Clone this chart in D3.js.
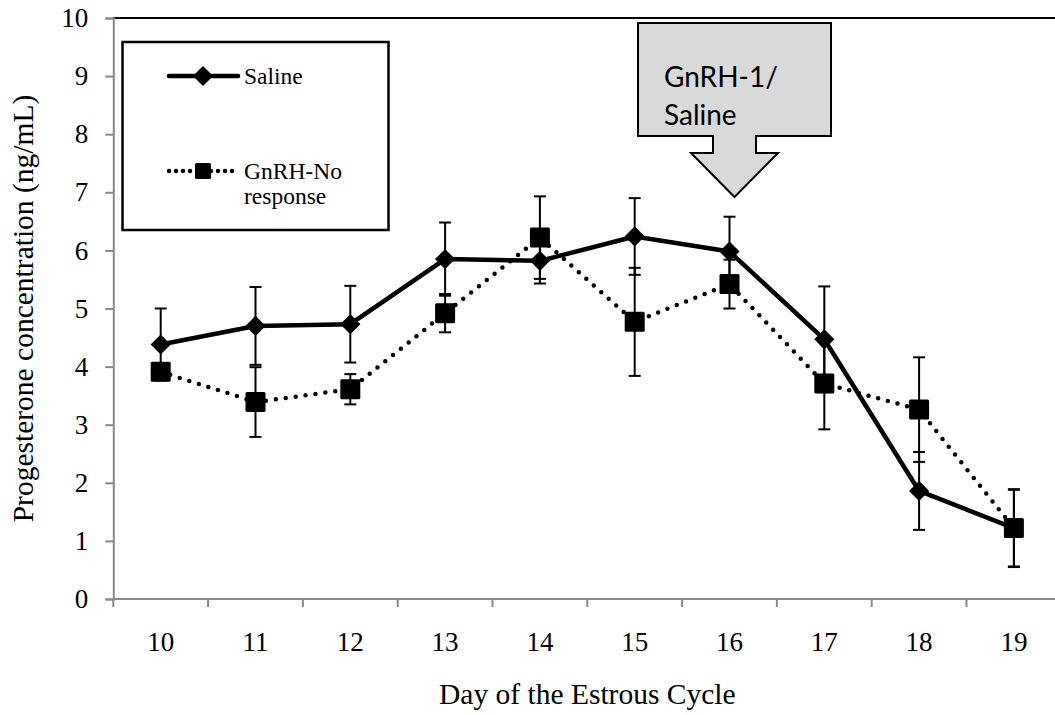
<!DOCTYPE html>
<html>
<head>
<meta charset="utf-8">
<script src="https://cdn.jsdelivr.net/npm/d3@7/dist/d3.min.js"></script>
<style>
  html, body { margin: 0; padding: 0; background: #fff; }
  svg { display: block; }
  .serif { font-family: "Liberation Serif", "Times New Roman", serif; fill: #000; }
</style>
</head>
<body>
<svg id="chart" width="1055" height="715"></svg>
<script>
// Day of the estrous cycle
const days = [10, 11, 12, 13, 14, 15, 16, 17, 18, 19];
// Progesterone (ng/mL), mean and error
const saline    = [4.38, 4.70, 4.73, 5.85, 5.82, 6.24, 5.98, 4.47, 1.86, 1.22];
const salineErr = [0.62, 0.67, 0.66, 0.63, 0.39, 0.66, 0.60, 0.91, 0.67, 0.66];
const gnrh      = [3.91, 3.39, 3.61, 4.92, 6.22, 4.77, 5.42, 3.71, 3.26, 1.22];
const gnrhErr   = [0.12, 0.60, 0.26, 0.33, 0.71, 0.93, 0.42, 0.79, 0.90, 0.67];
const yTicks = [0, 1, 2, 3, 4, 5, 6, 7, 8, 9, 10];
const seriesNames = ["Saline", "GnRH-No response"];
const arrowLines = ["GnRH-1/", "Saline"];

const svg = d3.select("#chart");
const plot = { left: 113.3, right: 1061.3, top: 18, bottom: 599 };

const x = d3.scaleBand().domain(days).range([plot.left, plot.right]);
const cx = d => x(d) + x.bandwidth() / 2;
const y = d3.scaleLinear().domain([0, 10]).range([plot.bottom, plot.top]);

// top border of the plot area
svg.append("line")
  .attr("x1", plot.left).attr("x2", 1055)
  .attr("y1", plot.top).attr("y2", plot.top)
  .attr("stroke", "#000").attr("stroke-width", 1.8);

// y axis
const yAxis = svg.append("g")
  .attr("transform", `translate(${plot.left},0)`)
  .call(d3.axisLeft(y).tickValues(yTicks).tickSize(8).tickPadding(17).tickFormat(d3.format("d")));
yAxis.select(".domain").attr("stroke", "#888").attr("stroke-width", 2);
yAxis.selectAll(".tick line").attr("stroke", "#888").attr("stroke-width", 2);
yAxis.selectAll(".tick text").attr("class", "serif").attr("font-size", 27).attr("fill", "#000");

// x axis: ticks between day categories
const xAxisG = svg.append("g").attr("transform", `translate(0,${plot.bottom})`);
xAxisG.append("line").attr("x1", plot.left).attr("x2", 1055)
  .attr("stroke", "#888").attr("stroke-width", 2);
xAxisG.selectAll("line.tk").data(days).join("line").attr("class", "tk")
  .attr("x1", d => x(d)).attr("x2", d => x(d)).attr("y1", 0).attr("y2", 8)
  .attr("stroke", "#888").attr("stroke-width", 2);
xAxisG.selectAll("text").data(days).join("text")
  .attr("class", "serif").attr("font-size", 27)
  .attr("x", d => cx(d)).attr("y", 52).attr("text-anchor", "middle")
  .text(d => d);

// axis titles
svg.append("text").attr("class", "serif").attr("font-size", 29.5)
  .attr("x", (plot.left + plot.right) / 2).attr("y", 704).attr("text-anchor", "middle")
  .text("Day of the Estrous Cycle");
svg.append("text").attr("class", "serif").attr("font-size", 29.5)
  .attr("transform", `translate(33,${(plot.top + plot.bottom) / 2}) rotate(-90)`)
  .attr("text-anchor", "middle")
  .text("Progesterone concentration (ng/mL)");

const diamond = d3.symbol().type(d3.symbolDiamond2).size(260);

function errorBars(vals, errs) {
  const g = svg.append("g").attr("stroke", "#000").attr("stroke-width", 2);
  vals.forEach((v, i) => {
    const xc = cx(days[i]);
    const hi = y(v + errs[i]), lo = y(v - errs[i]);
    g.append("line").attr("x1", xc).attr("x2", xc).attr("y1", hi).attr("y2", lo);
    g.append("line").attr("x1", xc - 6).attr("x2", xc + 6).attr("y1", hi).attr("y2", hi);
    g.append("line").attr("x1", xc - 6).attr("x2", xc + 6).attr("y1", lo).attr("y2", lo);
  });
}

const line = d3.line().x((d, i) => cx(days[i])).y(d => y(d));

// Saline series
errorBars(saline, salineErr);
svg.append("path").datum(saline).attr("d", line)
  .attr("fill", "none").attr("stroke", "#000").attr("stroke-width", 4.5)
  .attr("stroke-linejoin", "round");
svg.selectAll("path.dia").data(saline).join("path").attr("class", "dia")
  .attr("d", diamond)
  .attr("transform", (d, i) => `translate(${cx(days[i])},${y(d)})`)
  .attr("fill", "#000");

// GnRH-No response series
errorBars(gnrh, gnrhErr);
svg.append("path").datum(gnrh).attr("d", line)
  .attr("fill", "none").attr("stroke", "#000").attr("stroke-width", 4.5)
  .attr("stroke-linecap", "round").attr("stroke-dasharray", "0 10");
svg.selectAll("rect.sq").data(gnrh).join("rect").attr("class", "sq")
  .attr("x", (d, i) => cx(days[i]) - 10).attr("y", d => y(d) - 10)
  .attr("width", 20).attr("height", 20).attr("rx", 1.5)
  .attr("fill", "#000");

// legend
const lg = svg.append("g");
lg.append("rect").attr("x", 122.5).attr("y", 42).attr("width", 266).attr("height", 188)
  .attr("fill", "#fff").attr("stroke", "#000").attr("stroke-width", 2.5);
lg.append("line").attr("x1", 169).attr("x2", 238).attr("y1", 76).attr("y2", 76)
  .attr("stroke", "#000").attr("stroke-width", 4.5).attr("stroke-linecap", "round");
lg.append("path").attr("d", diamond).attr("transform", "translate(203,76)").attr("fill", "#000");
lg.append("text").attr("class", "serif").attr("font-size", 23.5)
  .attr("x", 244).attr("y", 84).text(seriesNames[0]);
lg.append("line").attr("x1", 169).attr("x2", 238).attr("y1", 171).attr("y2", 171)
  .attr("stroke", "#000").attr("stroke-width", 4.5).attr("stroke-linecap", "round")
  .attr("stroke-dasharray", "0 7");
lg.append("rect").attr("x", 195).attr("y", 163).attr("width", 16).attr("height", 16)
  .attr("rx", 1.5).attr("fill", "#000");
const lt = lg.append("text").attr("class", "serif").attr("font-size", 23.5).attr("x", 244).attr("y", 179);
lt.append("tspan").attr("x", 244).text("GnRH-No");
lt.append("tspan").attr("x", 244).attr("dy", 25).text("response");

// treatment arrow callout
const ax = 734.5;
const arrowPts = [
  [638, 23], [831, 23], [831, 136], [756, 136], [756, 153], [778, 153],
  [ax, 197], [691, 153], [713, 153], [713, 136], [638, 136]
];
svg.append("path").attr("d", d3.line()(arrowPts) + "Z")
  .attr("fill", "#d9d9d9").attr("stroke", "#000").attr("stroke-width", 2);
const at = svg.append("text").attr("font-family", "Lato, 'Open Sans', sans-serif")
  .attr("font-size", 28).attr("fill", "#000");
arrowLines.forEach((t, i) => {
  at.append("tspan").attr("x", 664).attr("y", 87 + i * 38).text(t);
});
</script>
</body>
</html>
